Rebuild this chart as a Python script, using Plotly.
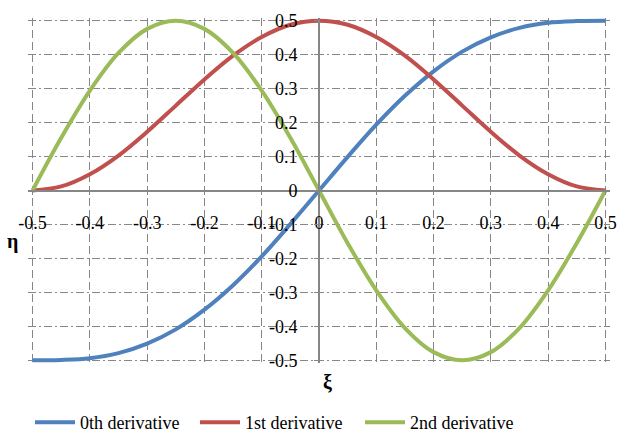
import plotly.graph_objects as go

# Sample positions along xi
xi = [-0.5, -0.45, -0.4, -0.35, -0.3, -0.25, -0.2, -0.15, -0.1, -0.05, 0.0,
      0.05, 0.1, 0.15, 0.2, 0.25, 0.3, 0.35, 0.4, 0.45, 0.5]

# eta values for each curve
eta_0th = [-0.500, -0.499, -0.494, -0.479, -0.451, -0.409, -0.351, -0.279, -0.194, -0.099, 0.000,
           0.099, 0.194, 0.279, 0.351, 0.409, 0.451, 0.479, 0.494, 0.499, 0.500]
eta_1st = [0.000, 0.012, 0.048, 0.103, 0.173, 0.250, 0.327, 0.397, 0.452, 0.488, 0.500,
           0.488, 0.452, 0.397, 0.327, 0.250, 0.173, 0.103, 0.048, 0.012, 0.000]
eta_2nd = [0.000, 0.155, 0.294, 0.405, 0.476, 0.500, 0.476, 0.405, 0.294, 0.155, 0.000,
           -0.155, -0.294, -0.405, -0.476, -0.500, -0.476, -0.405, -0.294, -0.155, 0.000]

series_names = ["0th derivative", "1st derivative", "2nd derivative"]
series_colors = ["#4F81BD", "#C0504D", "#9BBB59"]

tick_vals = [-0.5, -0.4, -0.3, -0.2, -0.1, 0, 0.1, 0.2, 0.3, 0.4, 0.5]
tick_text = ["-0.5", "-0.4", "-0.3", "-0.2", "-0.1", "0", "0.1", "0.2", "0.3", "0.4", "0.5"]

SERIF = "Times New Roman, Liberation Serif, DejaVu Serif"
GRAY = "#868686"

fig = go.Figure()
for name, ys, col in zip(series_names, [eta_0th, eta_1st, eta_2nd], series_colors):
    fig.add_trace(go.Scatter(
        x=xi, y=ys, name=name, mode="lines",
        line=dict(color=col, width=4, shape="spline", smoothing=1.0),
    ))

ext = 0.008
fig.update_layout(
    width=618, height=432,
    margin=dict(l=28, r=8, t=18, b=69, autoexpand=False),
    paper_bgcolor="white", plot_bgcolor="white",
    font=dict(family=SERIF, size=18, color="black"),
    showlegend=True,
    legend=dict(orientation="h", xref="container", x=30 / 618, xanchor="left",
                yref="container", y=0.022, yanchor="middle",
                font=dict(family=SERIF, size=18, color="black"),
                entrywidth=110, entrywidthmode="pixels",
                itemwidth=40, tracegroupgap=0),
    xaxis=dict(
        range=[-0.5 - ext, 0.5 + ext], tickvals=tick_vals, ticktext=tick_text,
        showgrid=True, gridcolor=GRAY, gridwidth=1.2, griddash="8px,4px",
        zeroline=False, showline=True, linecolor=GRAY, linewidth=1.6,
        anchor="free", position=0.5,
        ticks="outside", ticklen=4, tickcolor=GRAY, tickwidth=1.2,
        ticklabelstandoff=12,
        tickfont=dict(family=SERIF, size=18, color="black"),
    ),
    yaxis=dict(
        range=[-0.5 - ext, 0.5 + ext], tickvals=tick_vals, ticktext=tick_text,
        showgrid=True, gridcolor=GRAY, gridwidth=1.2, griddash="8px,3px,2px,3px",
        zeroline=False, showline=True, linecolor=GRAY, linewidth=1.6,
        anchor="free", position=0.5,
        ticks="outside", ticklen=4, tickcolor=GRAY, tickwidth=1.2,
        ticklabelstandoff=13,
        tickfont=dict(family=SERIF, size=18, color="black"),
    ),
    annotations=[
        dict(text="<b>η</b>", xref="paper", yref="paper", x=-16 / 582, y=0.351,
             xanchor="center", yanchor="middle", showarrow=False,
             font=dict(family=SERIF, size=20, color="black")),
        dict(text="<b>ξ</b>", xref="paper", yref="paper", x=0.514, y=-0.055,
             xanchor="center", yanchor="middle", showarrow=False,
             font=dict(family=SERIF, size=20, color="black")),
    ],
)

fig.write_html("out.html")
